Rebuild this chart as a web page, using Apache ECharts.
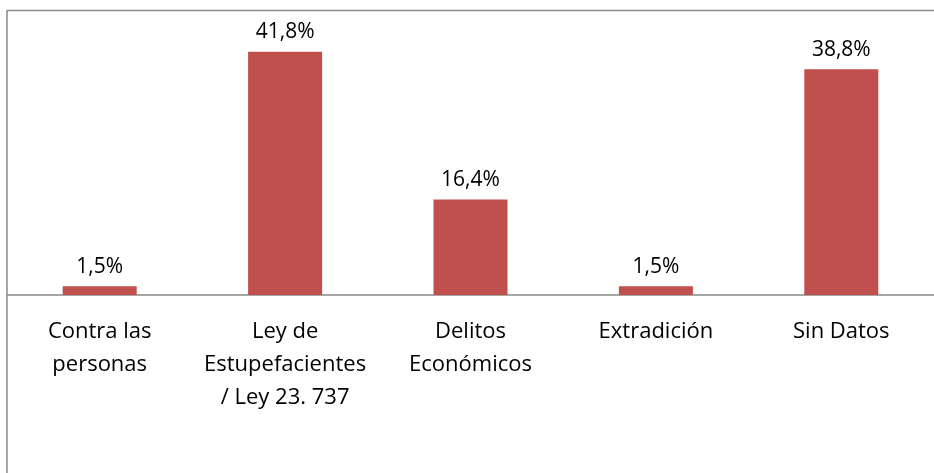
<!DOCTYPE html>
<html>
<head>
<meta charset="utf-8">
<script src="https://cdn.jsdelivr.net/npm/echarts@6/dist/echarts.min.js"></script>
<style>
  html, body { margin: 0; padding: 0; background: #fff; }
</style>
</head>
<body>
<div id="chart" style="width: 934px; height: 473px"></div>
<script>
const categories = ['Contra las\npersonas', 'Ley de\nEstupefacientes\n/ Ley 23. 737', 'Delitos\nEconómicos', 'Extradición', 'Sin Datos'];
const values = [1.5, 41.8, 16.4, 1.5, 38.8];

const chart = echarts.init(document.getElementById('chart'));

const option = {
  animation: false,
  textStyle: { fontFamily: 'Open Sans' },
  grid: { left: 7, right: 0, top: 4, bottom: 178 },
  graphic: [
    { type: 'line', shape: { x1: 7, y1: 10.5, x2: 934, y2: 10.5 }, style: { stroke: '#8a8a8a', lineWidth: 1.5 } },
    { type: 'line', shape: { x1: 7, y1: 10, x2: 7, y2: 473 }, style: { stroke: '#8a8a8a', lineWidth: 1.5 } }
  ],
  xAxis: {
    type: 'category',
    data: categories,
    axisLine: { lineStyle: { color: '#8a8a8a', width: 1.5 } },
    axisTick: { show: false },
    axisLabel: {
      interval: 0,
      margin: 20,
      color: '#000',
      fontSize: 22,
      lineHeight: 33,
      fontFamily: 'Open Sans'
    }
  },
  yAxis: {
    type: 'value',
    min: 0,
    max: 50,
    show: false,
    splitLine: { show: false }
  },
  series: [{
    type: 'bar',
    data: values,
    barWidth: 74,
    itemStyle: { color: '#C0504D' },
    label: {
      show: true,
      position: 'top',
      distance: 9,
      color: '#000',
      fontSize: 21,
      fontFamily: 'Open Sans',
      formatter: p => p.value.toFixed(1).replace('.', ',') + '%'
    }
  }]
};

chart.setOption(option);
</script>
</body>
</html>
